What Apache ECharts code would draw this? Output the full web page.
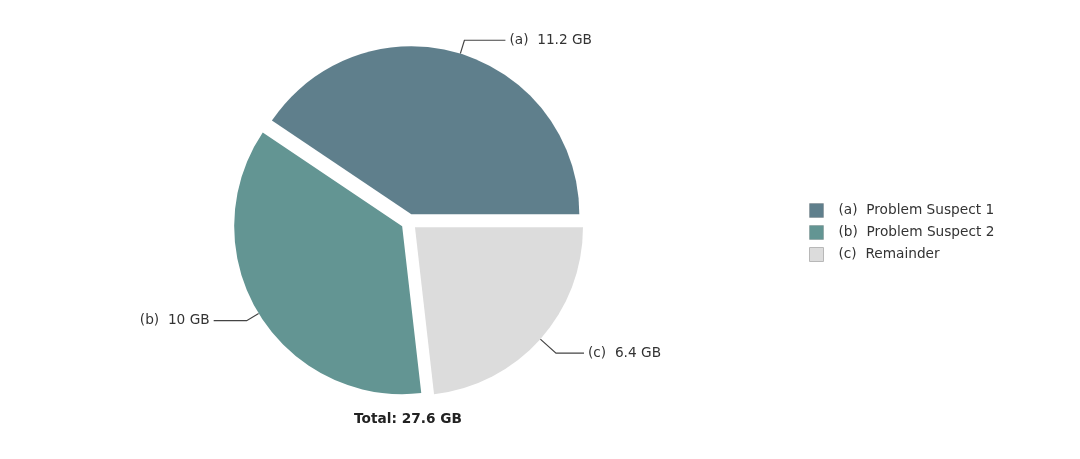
<!DOCTYPE html>
<html>
<head>
<meta charset="utf-8">
<script src="https://cdn.jsdelivr.net/npm/echarts@6/dist/echarts.min.js"></script>
<style>html,body{margin:0;padding:0;background:#fff;}#c{width:1080px;height:459px;}</style>
</head>
<body>
<div id="c"></div>
<script>
var letters = ['(a)', '(b)', '(c)'];
var names = ['Problem Suspect 1', 'Problem Suspect 2', 'Remainder'];
var values = [11.2, 10, 6.4];
var unit = 'GB';
var totalLabel = 'Total: 27.6 GB';
var colors = ['#5f7f8c', '#639593', '#dcdcdc'];
var lineLen = [14, 14, 21];
var lineLen2 = [41, 33, 28];

var FONT = '"DejaVu Sans", Verdana, sans-serif';
var FS = 13.7;
var data = values.map(function (v, i) {
  return {
    name: letters[i] + '  ' + names[i],
    value: v,
    selected: true,
    itemStyle: { color: colors[i] },
    label: { formatter: letters[i] + '  ' + v + ' ' + unit },
    labelLine: { length: lineLen[i], length2: lineLen2[i] }
  };
});

var chart = echarts.init(document.getElementById('c'));
chart.setOption({
  animation: false,
  backgroundColor: '#fff',
  title: {
    text: totalLabel,
    left: 408,
    top: 412,
    textAlign: 'center',
    padding: 0,
    textStyle: { fontFamily: FONT, fontSize: FS, fontWeight: 'bold', color: '#222' }
  },
  legend: {
    orient: 'vertical',
    left: 809,
    top: 203,
    padding: 0,
    itemWidth: 14,
    itemHeight: 14,
    itemGap: 7,
    icon: 'rect',
    selectedMode: false,
    textStyle: { fontFamily: FONT, fontSize: FS, lineHeight: 14, color: '#333', padding: [0, 0, 0, 10] },
    data: data.map(function (d, i) {
      return { name: d.name, itemStyle: { color: colors[i], borderColor: i === 2 ? '#b8b8b8' : 'rgba(0,0,0,0.15)', borderWidth: 1 } };
    })
  },
  series: [{
    type: 'pie',
    center: [409, 222],
    radius: [0, 168],
    startAngle: 0,
    clockwise: false,
    selectedMode: 'multiple',
    selectedOffset: 8,
    avoidLabelOverlap: false,
    select: { itemStyle: {} },
    emphasis: { disabled: true },
    label: {
      show: true,
      position: 'outside',
      fontFamily: FONT,
      fontSize: FS,
      color: '#333',
      distanceToLabelLine: 4
    },
    labelLine: {
      show: true,
      length: 14,
      length2: 33,
      lineStyle: { color: '#444', width: 1.2 }
    },
    data: data
  }]
});
</script>
</body>
</html>
